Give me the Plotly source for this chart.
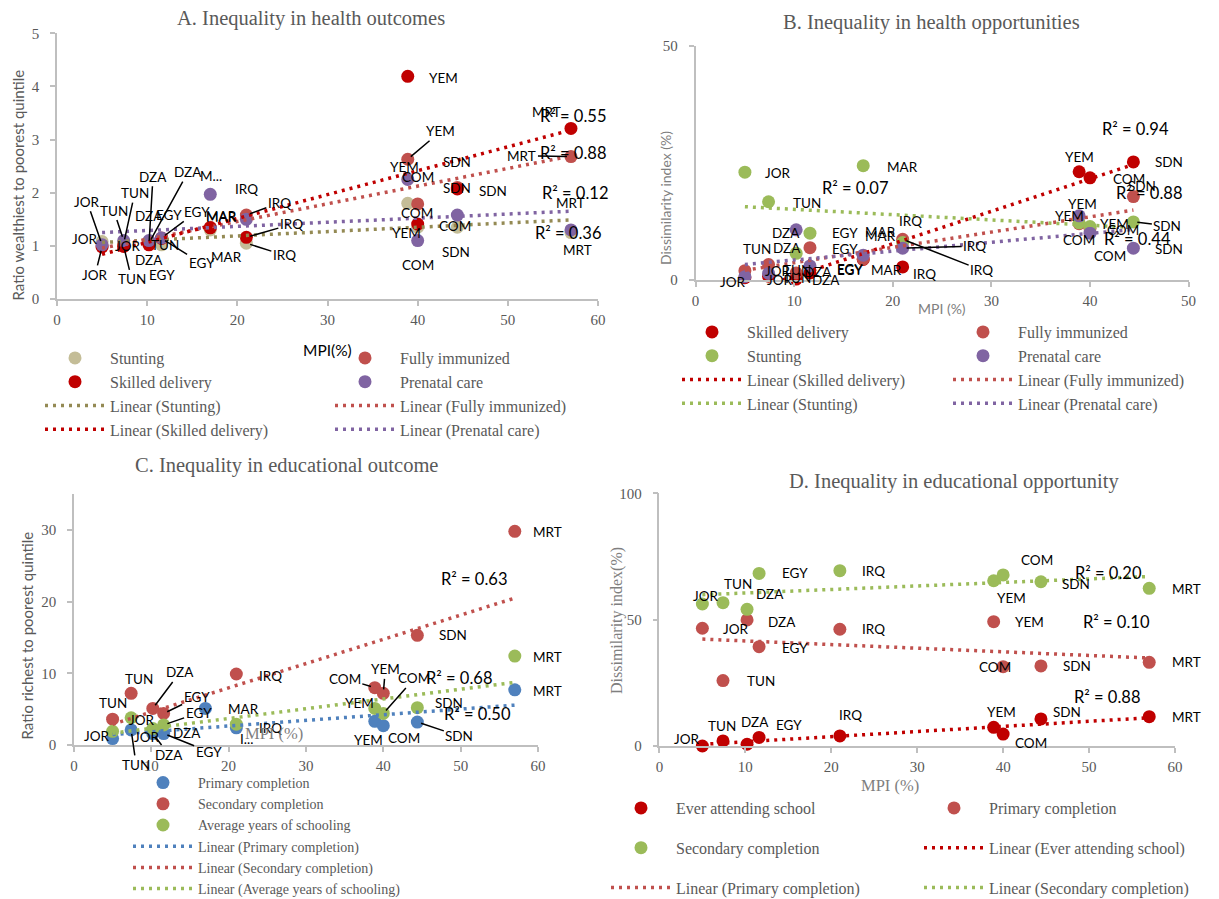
import numpy as np
import plotly.graph_objects as go

W, H = 1219, 899
PAGE_OFFSET = 8  # default body margin of the html page

# ======================= DATA =======================
# Panel A - Inequality in health outcomes (ratio wealthiest / poorest quintile)
A_MPI = [5.0, 7.4, 10.2, 11.6, 17.0, 21.0, 38.9, 40.0, 44.4, 57.0]
A_STUNTING = [1.08, 1.05, 1.05, 1.02, 1.30, 1.05, 1.80, 1.35, 1.35, 1.25]
A_FULLY_IMMUNIZED = [1.00, 1.00, 1.05, 1.15, 1.35, 1.58, 2.63, 1.79, 2.10, 2.68]
A_SKILLED_DELIVERY = [0.98, 0.99, 1.02, 1.14, 1.34, 1.16, 4.19, 1.41, 2.07, 3.21]
A_PRENATAL_CARE = [1.02, 1.10, 1.10, 1.15, 1.97, 1.50, 2.25, 1.10, 1.58, 1.30]
A_R2 = ["R² = 0.55", "R² = 0.88", "R² = 0.12", "R² = 0.36"]

# Panel B - Inequality in health opportunities (dissimilarity index, %)
B_MPI = [5.0, 7.4, 10.2, 11.6, 17.0, 21.0, 38.9, 40.0, 44.4]
B_SKILLED_DELIVERY = [0.5, 0.8, 0.2, 1.5, 4.4, 2.8, 23.1, 21.8, 25.2]
B_FULLY_IMMUNIZED = [2.0, 3.3, 1.5, 6.9, 4.5, 8.7, 12.0, 11.0, 17.8]
B_STUNTING = [23.0, 16.7, 5.7, 10.0, 24.4, 8.0, 12.2, 11.4, 12.4]
B_PRENATAL_CARE = [0.7, 1.4, 10.7, 3.0, 5.3, 6.8, 13.7, 10.0, 6.8]
B_R2 = ["R² = 0.94", "R² = 0.07", "R² = 0.88", "R² = 0.44"]

# Panel C - Inequality in educational outcome (ratio richest / poorest quintile)
C_MPI_PRIMARY = [5.0, 7.4, 10.2, 11.6, 17.0, 21.0, 38.9, 40.0, 44.4, 57.0]
C_PRIMARY = [0.9, 2.1, 1.6, 1.6, 5.1, 2.4, 3.3, 2.7, 3.2, 7.7]
C_MPI_OTHER = [5.0, 7.4, 10.2, 11.6, 21.0, 38.9, 40.0, 44.4, 57.0]
C_SECONDARY = [3.6, 7.2, 5.1, 4.4, 9.9, 8.0, 7.2, 15.3, 29.8]
C_AVG_YEARS = [1.9, 3.8, 2.3, 2.8, 2.9, 5.1, 4.4, 5.2, 12.4]
C_R2 = ["R² = 0.63", "R² = 0.68", "R² = 0.50"]

# Panel D - Inequality in educational opportunity (dissimilarity index, %)
D_MPI = [5.0, 7.4, 10.2, 11.6, 21.0, 38.9, 40.0, 44.4, 57.0]
D_EVER_ATTENDING = [0.0, 2.0, 0.7, 3.4, 4.0, 7.4, 4.7, 10.7, 11.6]
D_PRIMARY = [46.6, 25.9, 49.9, 39.3, 46.2, 49.2, 31.4, 31.7, 33.1]
D_SECONDARY = [56.2, 56.7, 54.1, 68.3, 69.4, 65.4, 67.7, 65.0, 62.4]
D_R2 = ["R² = 0.20", "R² = 0.10", "R² = 0.88"]

# Data labels as they appear (text, dx px, dy px, leader line)
A_STUNTING_LABELS = [("JOR", -17, -3, 0), ("TUN", 11, -50, 1), ("DZA", 0, 17, 0), ("EGY", 0, 30, 0),
                     ("MAR", 16, 27, 0), ("IRQ", 38, 12, 1), ("YEM", -1, 30, 0), ("COM", -1, -14, 0),
                     ("SDN", -1, 25, 0), ("MRT", 0, -30, 0)]
A_FULLY_LABELS = [("JOR", 26, 0, 0), ("TUN", 41, -1, 0), ("DZA", 39, -71, 1), ("EGY", 35, -26, 1),
                  ("MAR", 11, -11, 0), ("IRQ", 33, -12, 1), ("YEM", 33, -28, 1), ("COM", 0, -27, 0),
                  ("SDN", 0, -25, 0), ("MRT", -49, -1, 1)]
A_SKILLED_LABELS = [("JOR", -7, 28, 1), ("TUN", 8, 33, 1), ("DZA", 4, -68, 1), ("EGY", 40, 25, 1),
                    ("MAR", 11, -11, 0), ("IRQ", 45, -13, 1), ("YEM", 36, 2, 0), ("COM", 37, 2, 0),
                    ("SDN", 36, 2, 0), ("MRT", -24, -16, 0)]
A_PRENATAL_LABELS = [("JOR", -15, -43, 1), ("TUN", -10, -30, 1), ("DZA", 0, -25, 0), ("EGY", 7, -23, 0),
                     ("M...", 1, -18, 0), ("IRQ", 0, -30, 0), ("YEM", -3, -12, 0), ("COM", 0, 24, 0),
                     ("SDN", 0, -27, 0), ("MRT", 7, 20, 0)]

B_SKILLED_LABELS = [("JOR", 35, 2, 0), ("TUN", 28, 2, 0), ("DZA", 30, 1, 0), ("EGY", 40, -3, 0),
                    ("MAR", 23, 11, 0), ("IRQ", 22, 7, 0), ("YEM", 0, -15, 0), ("COM", 39, 1, 0),
                    ("SDN", 36, 0, 0)]
B_FULLY_LABELS = [("JOR", 33, 0, 0), ("TUN", -12, -16, 0), ("DZA", 22, -1, 0), ("EGY", 35, 1, 0),
                  ("MAR", 17, -23, 0), ("IRQ", 79, 31, 1), ("YEM", 35, 0, 0), ("COM", 20, 28, 0),
                  ("SDN", 9, -11, 0)]
B_STUNTING_LABELS = [("JOR", 33, 1, 0), ("TUN", 38, 1, 0), ("DZA", -9, -5, 0), ("EGY", 35, 0, 0),
                     ("MAR", 39, 1, 0), ("IRQ", 8, -22, 0), ("YEM", -10, -7, 0), ("COM", 33, 3, 0),
                     ("SDN", 34, 4, 1)]
B_PRENATAL_LABELS = [("JOR", -12, 5, 0), ("TUN", 28, -3, 0), ("DZA", -10, 3, 0), ("EGY", 40, 3, 0),
                     ("MAR", 17, -23, 0), ("IRQ", 72, -2, 1), ("YEM", 3, -12, 0), ("COM", -11, 7, 0),
                     ("SDN", 36, 1, 0)]

C_PRIMARY_LABELS = [("JOR", -16, -3, 0), ("TUN", 5, 35, 1), ("DZA", 16, 21, 1), ("EGY", 45, 18, 1),
                    ("MAR", 38, 1, 0), ("IRQ", 34, 0, 0), ("YEM", -6, 19, 0), ("COM", 21, 12, 0),
                    ("SDN", 42, 14, 1), ("MRT", 33, 1, 0)]
C_SECONDARY_LABELS = [("TUN", 0, -16, 0), ("TUN", 8, -14, 0), ("DZA", 27, -36, 1), ("EGY", 33, -16, 1),
                      ("IRQ", 34, 2, 0), ("COM", -30, -9, 1), ("YEM", 2, -24, 1), ("SDN", 36, 0, 0),
                      ("MRT", 33, 1, 0)]
C_AVG_LABELS = [("JOR", 34, 6, 0), ("JOR", 11, 2, 0), ("DZA", 34, 4, 0), ("EGY", 35, -12, 1),
                ("I...", 10, 15, 0), ("YEM", -15, -5, 0), ("COM", 31, -35, 1), ("SDN", 32, -5, 0),
                ("MRT", 33, 1, 0)]

D_EVER_LABELS = [("JOR", -15, -7, 0), ("TUN", -1, -15, 0), ("DZA", 8, -22, 0), ("EGY", 30, -12, 0),
                 ("IRQ", 11, -21, 0), ("YEM", 8, -15, 0), ("COM", 28, 9, 0), ("SDN", 26, -7, 0),
                 ("MRT", 37, 0, 0)]
D_PRIMARY_LABELS = [("JOR", 34, 1, 0), ("TUN", 38, 0, 0), ("DZA", 35, 2, 0), ("EGY", 36, 1, 0),
                    ("IRQ", 34, 0, 0), ("YEM", 36, 0, 0), ("COM", -8, 0, 0), ("SDN", 36, 0, 0),
                    ("MRT", 37, 0, 0)]
D_SECONDARY_LABELS = [("JOR", 4, -8, 0), ("TUN", 15, -19, 0), ("DZA", 23, -15, 0), ("EGY", 36, 0, 0),
                      ("IRQ", 34, 0, 0), ("YEM", 18, 17, 0), ("COM", 34, -15, 0), ("SDN", 35, 2, 0),
                      ("MRT", 37, 1, 0)]

# ======================= STYLE =======================
SERIF = "Liberation Serif, Times New Roman, serif"
SANS = "Lato, Carlito, Calibri, sans-serif"
GREY = "#595959"
LGREY = "#7F7F7F"
AXIS_COL = "#BFBFBF"
LABEL_FONT = dict(family=SANS, size=13.5, color="#000000")
R2_FONT = dict(family=SANS, size=16.5, color="#000000")

C_TAN, C_DRED, C_RED, C_PURP, C_GREEN, C_BLUE, C_OLIVE = (
    "#C4BD97", "#C00000", "#C0504D", "#8064A2", "#9BBB59", "#4F81BD", "#948A54")


def px(x):
    return (x - PAGE_OFFSET) / W


def py(y):
    return 1 - (y - PAGE_OFFSET) / H


fig = go.Figure()
annotations = []


def axn(i):
    return ("x" if i == 1 else f"x{i}", "y" if i == 1 else f"y{i}")


def add_points(i, xs, ys, name, color, legend, group=None):
    xa, ya = axn(i)
    kw = dict(legendgroup=group) if group else {}
    fig.add_trace(go.Scatter(x=xs, y=ys, mode="markers", name=name, xaxis=xa, yaxis=ya,
                             marker=dict(size=13, color=color), cliponaxis=False,
                             legend=legend, hoverinfo="skip", **kw))


def add_trend(i, xs, ys, name, color, legend, group=None):
    xa, ya = axn(i)
    slope, intercept = np.polyfit(np.array(xs), np.array(ys), 1)
    xe = np.array([min(xs), max(xs)])
    kw = dict(legendgroup=group) if group else {}
    fig.add_trace(go.Scatter(x=xe, y=slope * xe + intercept, mode="lines",
                             name=f"Linear ({name})", xaxis=xa, yaxis=ya,
                             line=dict(color=color, width=3.5, dash="3px,5px"),
                             legend=legend, hoverinfo="skip", **kw))


def add_labels(i, xs, ys, specs):
    xa, ya = axn(i)
    for x, y, (text, dx, dy, leader) in zip(xs, ys, specs):
        if leader:
            annotations.append(dict(x=x, y=y, xref=xa, yref=ya, text=text, showarrow=True,
                                    ax=dx, ay=dy, arrowhead=0, arrowwidth=1.5,
                                    arrowcolor="black", standoff=4, font=LABEL_FONT))
        else:
            annotations.append(dict(x=x, y=y, xref=xa, yref=ya, text=text, showarrow=False,
                                    xshift=dx, yshift=-dy, font=LABEL_FONT))


def ptext(text, x, y, font, angle=0):
    annotations.append(dict(x=px(x), y=py(y), xref="paper", yref="paper", text=text,
                            showarrow=False, font=font, textangle=angle,
                            xanchor="center", yanchor="middle"))


# ---------------- Panel A ----------------
add_points(1, A_MPI, A_STUNTING, "Stunting", C_TAN, "legend")
add_points(1, A_MPI, A_FULLY_IMMUNIZED, "Fully immunized", C_RED, "legend2")
add_points(1, A_MPI, A_SKILLED_DELIVERY, "Skilled delivery", C_DRED, "legend")
add_points(1, A_MPI, A_PRENATAL_CARE, "Prenatal care", C_PURP, "legend2")
add_trend(1, A_MPI, A_STUNTING, "Stunting", C_OLIVE, "legend")
add_trend(1, A_MPI, A_FULLY_IMMUNIZED, "Fully immunized", C_RED, "legend2")
add_trend(1, A_MPI, A_SKILLED_DELIVERY, "Skilled delivery", C_DRED, "legend")
add_trend(1, A_MPI, A_PRENATAL_CARE, "Prenatal care", C_PURP, "legend2")
add_labels(1, A_MPI, A_STUNTING, A_STUNTING_LABELS)
add_labels(1, A_MPI, A_FULLY_IMMUNIZED, A_FULLY_LABELS)
add_labels(1, A_MPI, A_SKILLED_DELIVERY, A_SKILLED_LABELS)
add_labels(1, A_MPI, A_PRENATAL_CARE, A_PRENATAL_LABELS)

# ---------------- Panel B ----------------
add_points(2, B_MPI, B_SKILLED_DELIVERY, "Skilled delivery", C_DRED, "legend3")
add_points(2, B_MPI, B_FULLY_IMMUNIZED, "Fully immunized", C_RED, "legend4")
add_points(2, B_MPI, B_STUNTING, "Stunting", C_GREEN, "legend3")
add_points(2, B_MPI, B_PRENATAL_CARE, "Prenatal care", C_PURP, "legend4")
add_trend(2, B_MPI, B_SKILLED_DELIVERY, "Skilled delivery", C_DRED, "legend3")
add_trend(2, B_MPI, B_FULLY_IMMUNIZED, "Fully immunized", C_RED, "legend4")
add_trend(2, B_MPI, B_STUNTING, "Stunting", C_GREEN, "legend3")
add_trend(2, B_MPI, B_PRENATAL_CARE, "Prenatal care", C_PURP, "legend4")
add_labels(2, B_MPI, B_SKILLED_DELIVERY, B_SKILLED_LABELS)
add_labels(2, B_MPI, B_FULLY_IMMUNIZED, B_FULLY_LABELS)
add_labels(2, B_MPI, B_STUNTING, B_STUNTING_LABELS)
add_labels(2, B_MPI, B_PRENATAL_CARE, B_PRENATAL_LABELS)

# ---------------- Panel C ----------------
add_points(3, C_MPI_PRIMARY, C_PRIMARY, "Primary completion", C_BLUE, "legend5")
add_points(3, C_MPI_OTHER, C_SECONDARY, "Secondary completion", C_RED, "legend5")
add_points(3, C_MPI_OTHER, C_AVG_YEARS, "Average years of schooling", C_GREEN, "legend5")
add_trend(3, C_MPI_PRIMARY, C_PRIMARY, "Primary completion", C_BLUE, "legend5")
add_trend(3, C_MPI_OTHER, C_SECONDARY, "Secondary completion", C_RED, "legend5")
add_trend(3, C_MPI_OTHER, C_AVG_YEARS, "Average years of schooling", C_GREEN, "legend5")
add_labels(3, C_MPI_PRIMARY, C_PRIMARY, C_PRIMARY_LABELS)
add_labels(3, C_MPI_OTHER, C_SECONDARY, C_SECONDARY_LABELS)
add_labels(3, C_MPI_OTHER, C_AVG_YEARS, C_AVG_LABELS)

# ---------------- Panel D ----------------
add_points(4, D_MPI, D_EVER_ATTENDING, "Ever attending school", C_DRED, "legend6", "g1")
add_points(4, D_MPI, D_PRIMARY, "Primary completion", C_RED, "legend7", "g2")
add_points(4, D_MPI, D_SECONDARY, "Secondary completion", C_GREEN, "legend6", "g3")
add_trend(4, D_MPI, D_EVER_ATTENDING, "Ever attending school", C_DRED, "legend7", "g4")
add_trend(4, D_MPI, D_PRIMARY, "Primary completion", C_RED, "legend6", "g5")
add_trend(4, D_MPI, D_SECONDARY, "Secondary completion", C_GREEN, "legend7", "g6")
add_labels(4, D_MPI, D_EVER_ATTENDING, D_EVER_LABELS)
add_labels(4, D_MPI, D_PRIMARY, D_PRIMARY_LABELS)
add_labels(4, D_MPI, D_SECONDARY, D_SECONDARY_LABELS)

# ---------------- Texts ----------------
TITLE_FONT = dict(family=SERIF, size=20.5, color=GREY)
ptext("A. Inequality in health outcomes", 311, 19, TITLE_FONT)
ptext("B. Inequality in health opportunities", 932, 22, TITLE_FONT)
ptext("C. Inequality in educational outcome", 286, 465, TITLE_FONT)
ptext("D. Inequality in educational opportunity", 954, 481, TITLE_FONT)

ptext("Ratio wealthiest to poorest quintile", 17.5, 185, dict(family=SANS, size=15, color=GREY), -90)
ptext("Dissimilarity index (%)", 666, 198, dict(family=SANS, size=14, color=LGREY), -90)
ptext("Ratio richest to poorest quintile", 26.5, 636, dict(family=SANS, size=15, color=GREY), -90)
ptext("Dissimilarity index(%)", 617, 621, dict(family=SERIF, size=16, color=LGREY), -90)

ptext("MPI(%)", 327, 350, dict(family=SANS, size=15.5, color="#000000"))
ptext("MPI (%)", 942, 309, dict(family=SANS, size=14, color=LGREY))
ptext("MPI (%)", 274, 733, dict(family=SERIF, size=16.5, color=LGREY))
ptext("MPI (%)", 890, 785, dict(family=SERIF, size=16.5, color=LGREY))

for t, (x, y) in zip(A_R2, [(573, 116), (573, 153), (575, 193), (568, 233)]):
    ptext(t, x, y, R2_FONT)
for t, (x, y) in zip(B_R2, [(1135, 129), (855, 188), (1149, 193), (1137, 239)]):
    ptext(t, x, y, R2_FONT)
for t, (x, y) in zip(C_R2, [(474, 579), (459, 678), (477, 714)]):
    ptext(t, x, y, R2_FONT)
for t, (x, y) in zip(D_R2, [(1108, 573), (1116, 622), (1107, 697)]):
    ptext(t, x, y, R2_FONT)

# ---------------- Axes ----------------
TICK_FONT = dict(family=SERIF, size=15, color=GREY)


def axis(domain, rng, is_x, **kw):
    d = dict(domain=domain, range=rng, showline=True, linecolor=AXIS_COL, linewidth=1.5,
             ticks="outside", tickcolor=AXIS_COL, ticklen=5, tickwidth=1.5, showgrid=False,
             zeroline=False, tickfont=TICK_FONT, fixedrange=True,
             ticklabelstandoff=(1 if is_x else 8))
    d.update(kw)
    return d


layout = dict(
    width=W, height=H, margin=dict(l=0, r=0, t=0, b=0, autoexpand=False),
    paper_bgcolor="white", plot_bgcolor="white", showlegend=True,
    xaxis=axis([px(57), px(598)], [0, 60], True, dtick=10, anchor="y"),
    yaxis=axis([py(299), py(33.3)], [0, 5], False, dtick=1, anchor="x"),
    xaxis2=axis([px(695.6), px(1188.6)], [0, 50], True, dtick=10, anchor="y2"),
    yaxis2=axis([py(280), py(45.7)], [0, 50], False, dtick=50, anchor="x2"),
    xaxis3=axis([px(73.9), px(538)], [0, 60], True, dtick=10, anchor="y3"),
    yaxis3=axis([py(745), py(494)], [0, 35], False, tickvals=[0, 10, 20, 30], anchor="x3"),
    xaxis4=axis([px(659.4), px(1175)], [0, 60], True, dtick=10, anchor="y4"),
    yaxis4=axis([py(746), py(493.3)], [0, 100], False, dtick=50, anchor="x4"),
    annotations=annotations,
)


def leg(x0, yc, size=16, **kw):
    d = dict(x=px(x0), y=py(yc), xanchor="left", yanchor="middle", orientation="v",
             bgcolor="rgba(0,0,0,0)", font=dict(family=SERIF, size=size, color=GREY),
             itemwidth=60, tracegroupgap=0, traceorder="normal")
    d.update(kw)
    return d


layout["legend"] = leg(40, 394)
layout["legend2"] = leg(330, 394)
layout["legend3"] = leg(677, 368)
layout["legend4"] = leg(948, 368)
layout["legend5"] = leg(128, 836, size=14)
layout["legend6"] = leg(606, 848, traceorder="grouped", tracegroupgap=16)
layout["legend7"] = leg(919, 848, traceorder="grouped", tracegroupgap=16)

fig.update_layout(**layout)
fig.write_html("out.html")
